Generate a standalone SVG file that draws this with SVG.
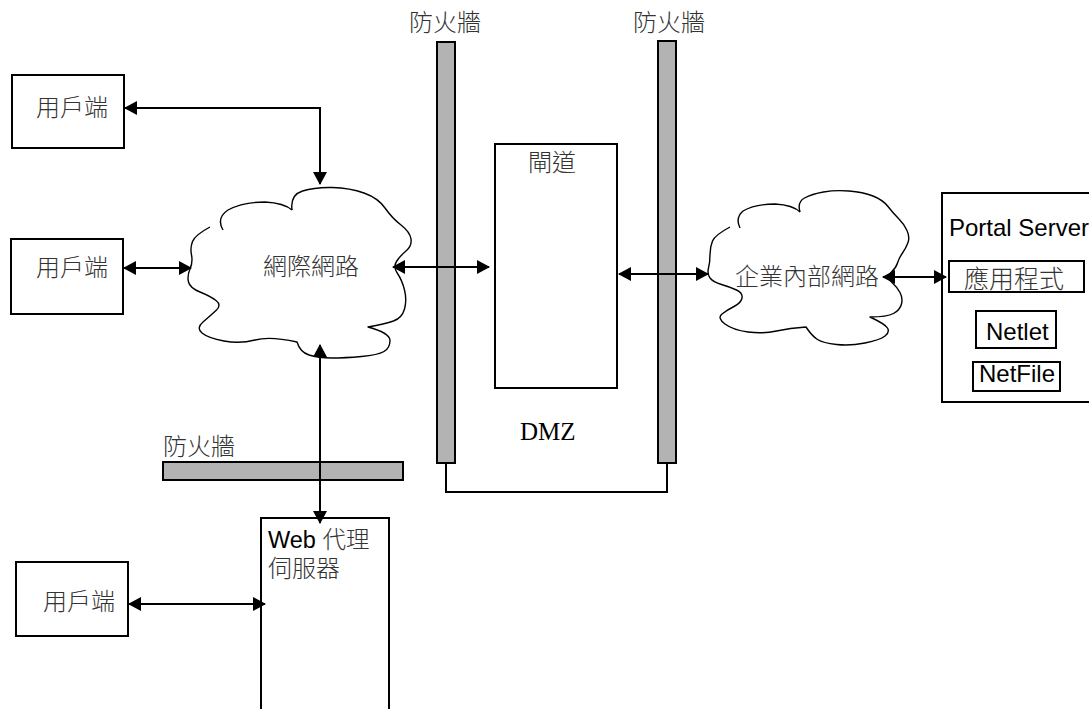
<svg xmlns="http://www.w3.org/2000/svg" width="1089" height="709" viewBox="0 0 1089 709">
<defs>
<style>
.box{fill:#fff;stroke:#000;stroke-width:2}
.fw{fill:#b3b3b3;stroke:#000;stroke-width:2}
.cloud{fill:#fff;stroke:none}
.lobe{fill:none;stroke:#000;stroke-width:1.4;stroke-linejoin:round}
.cjk{font-family:"Noto Sans CJK TC","Noto Sans CJK SC",sans-serif;font-size:24px;font-weight:300;fill:#333}
.lat{font-family:"Liberation Sans",Arial,sans-serif;font-size:24px;fill:#000}
.ser{font-family:"Liberation Serif","Times New Roman",serif;font-size:25px;fill:#000}
.conn{fill:none;stroke:#000;stroke-width:2}
</style>
<marker id="ah" viewBox="0 0 13 14" markerUnits="userSpaceOnUse" markerWidth="13" markerHeight="14" refX="12" refY="7" orient="auto-start-reverse">
<path d="M0,0 L13,7 L0,14 z" fill="#000"/>
</marker>
</defs>
<rect width="1089" height="709" fill="#fff"/>

<g id="firewall-left">
<rect class="fw" x="437" y="42" width="18" height="421"/>
<text class="cjk" x="409" y="31">防火牆</text>
</g>
<g id="firewall-right">
<rect class="fw" x="658" y="41" width="18" height="422"/>
<text class="cjk" x="633" y="31">防火牆</text>
</g>
<g id="firewall-bottom">
<rect class="fw" x="163" y="462" width="240" height="18"/>
<text class="cjk" x="163" y="455">防火牆</text>
</g>

<g id="client1">
<rect class="box" x="12" y="75" width="112" height="73"/>
<text class="cjk" x="36" y="116">用戶端</text>
</g>
<g id="client2">
<rect class="box" x="11" y="239" width="112" height="75"/>
<text class="cjk" x="36" y="276">用戶端</text>
</g>
<g id="client3">
<rect class="box" x="16" y="562" width="112" height="74"/>
<text class="cjk" x="43" y="610">用戶端</text>
</g>

<g id="internet">
<path class="cloud" d="M292,210 Q290,195 302.5,191 Q315,187 332.5,187.5 Q350,188 364,193 Q378,198 385,208 Q392,218 401,225 Q410,232 411,239 Q412,246 406,251 Q400,256 396.5,261.5 Q393,267 397.5,273.5 Q402,280 404.5,290 Q407,300 404.5,309 Q402,318 393.5,321 Q385,324 368,327 Q390,333 390,340.5 Q390,348 384,351.5 Q378,355 361.5,356.5 Q345,358 331.5,358 Q318,358 309,355 Q300,352 297,342 Q270,336 255,340 Q240,344 224,341 Q208,338 202,333 Q196,328 203,322 Q210,316 216,310.5 Q222,305 216,300.5 Q210,296 200,292 Q190,288 188.5,282 Q187,276 190,269 Q193,262 191.5,255 Q190,248 192.5,241.5 Q195,235 210,227 Q240,215 292,210 z"/>
<path class="lobe" d="M292,210 Q290,195 302.5,191 Q315,187 332.5,187.5 Q350,188 364,193 Q378,198 385,208 Q392,218 401,225 Q410,232 411,239 Q412,246 406,251 Q400,256 396.5,261.5 Q393,267 397.5,273.5 Q402,280 404.5,290 Q407,300 404.5,309 Q402,318 393.5,321 Q385,324 368,327 Q390,333 390,340.5 Q390,348 384,351.5 Q378,355 361.5,356.5 Q345,358 331.5,358 Q318,358 309,355 Q300,352 297,342 Q270,336 255,340 Q240,344 224,341 Q208,338 202,333 Q196,328 203,322 Q210,316 216,310.5 Q222,305 216,300.5 Q210,296 200,292 Q190,288 188.5,282 Q187,276 190,269 Q193,262 191.5,255 Q190,248 192.5,241.5 Q195,235 210,227"/>
<path class="lobe" d="M223,230 Q216,218 228,210 Q243,202 265,202 Q284,203 292,210"/>
<text class="cjk" x="263" y="275">網際網路</text>
</g>

<g id="gateway">
<rect class="box" x="495" y="144" width="122" height="244"/>
<text class="cjk" x="528" y="171">閘道</text>
</g>

<g id="dmz">
<text class="ser" x="520" y="440">DMZ</text>
</g>

<g id="intranet">
<path class="cloud" d="M800,212 Q797,202 804.5,198 Q812,194 823.5,192 Q835,190 849,191 Q863,192 873,196 Q883,200 888,206.5 Q893,213 898.5,218.5 Q904,224 907,230.5 Q910,237 908,242.5 Q906,248 902.5,253 Q899,258 897.5,263 Q896,268 891,272.5 Q886,277 891.5,282 Q897,287 900,292.5 Q903,298 901.5,304 Q900,310 893.5,313.5 Q887,317 870,317 Q885,324 887.5,328 Q890,332 885,336 Q880,340 865,343 Q850,346 836.5,344.5 Q823,343 817.5,339.5 Q812,336 806,327 Q790,328 776.5,331 Q763,334 748,332 Q733,330 725,324 Q717,318 722,314 Q727,310 734,306.5 Q741,303 742,298 Q743,293 736.5,290 Q730,287 721.5,284.5 Q713,282 710,278 Q707,274 708.5,268 Q710,262 710,254.5 Q710,247 712.5,241 Q715,235 730,227 Q760,215 800,212 z"/>
<path class="lobe" d="M800,212 Q797,202 804.5,198 Q812,194 823.5,192 Q835,190 849,191 Q863,192 873,196 Q883,200 888,206.5 Q893,213 898.5,218.5 Q904,224 907,230.5 Q910,237 908,242.5 Q906,248 902.5,253 Q899,258 897.5,263 Q896,268 891,272.5 Q886,277 891.5,282 Q897,287 900,292.5 Q903,298 901.5,304 Q900,310 893.5,313.5 Q887,317 870,317 Q885,324 887.5,328 Q890,332 885,336 Q880,340 865,343 Q850,346 836.5,344.5 Q823,343 817.5,339.5 Q812,336 806,327 Q790,328 776.5,331 Q763,334 748,332 Q733,330 725,324 Q717,318 722,314 Q727,310 734,306.5 Q741,303 742,298 Q743,293 736.5,290 Q730,287 721.5,284.5 Q713,282 710,278 Q707,274 708.5,268 Q710,262 710,254.5 Q710,247 712.5,241 Q715,235 730,227"/>
<path class="lobe" d="M740,228 Q735,218 743,211 Q755,204 775,204 Q793,205 800,212"/>
<text class="cjk" x="735" y="285">企業內部網路</text>
</g>

<g id="portal-server">
<rect class="box" x="942" y="193" width="160" height="209"/>
<text class="lat" x="949" y="236">Portal Server</text>
</g>
<g id="applications">
<rect class="box" x="949" y="261" width="135" height="31"/>
<text class="cjk" x="964" y="288" style="font-size:25px">應用程式</text>
</g>
<g id="netlet">
<rect class="box" x="976" y="311" width="80" height="37"/>
<text class="lat" x="986" y="340">Netlet</text>
</g>
<g id="netfile">
<rect class="box" x="973" y="362" width="87" height="29"/>
<text class="lat" x="979" y="382">NetFile</text>
</g>

<g id="web-proxy">
<rect class="box" x="261" y="518" width="128" height="200"/>
<text class="lat" style="font-size:23.5px"><tspan x="268" y="548">Web <tspan class="cjk" style="font-size:23.5px">代理</tspan></tspan><tspan class="cjk" style="font-size:24px" x="268" y="577">伺服器</tspan></text>
</g>

<g id="connectors">
<path class="conn" d="M446,463 V492 H667 V463"/>
<path class="conn" marker-start="url(#ah)" marker-end="url(#ah)" d="M125,108 H320 V184"/>
<path class="conn" marker-start="url(#ah)" marker-end="url(#ah)" d="M124,268 H191"/>
<path class="conn" marker-start="url(#ah)" marker-end="url(#ah)" d="M393,267 H489"/>
<path class="conn" marker-start="url(#ah)" marker-end="url(#ah)" d="M619,274 H708"/>
<path class="conn" marker-start="url(#ah)" marker-end="url(#ah)" d="M883,277 H946"/>
<path class="conn" marker-start="url(#ah)" marker-end="url(#ah)" d="M320,345 V523"/>
<path class="conn" marker-start="url(#ah)" marker-end="url(#ah)" d="M129,604 H265"/>
</g>
</svg>
